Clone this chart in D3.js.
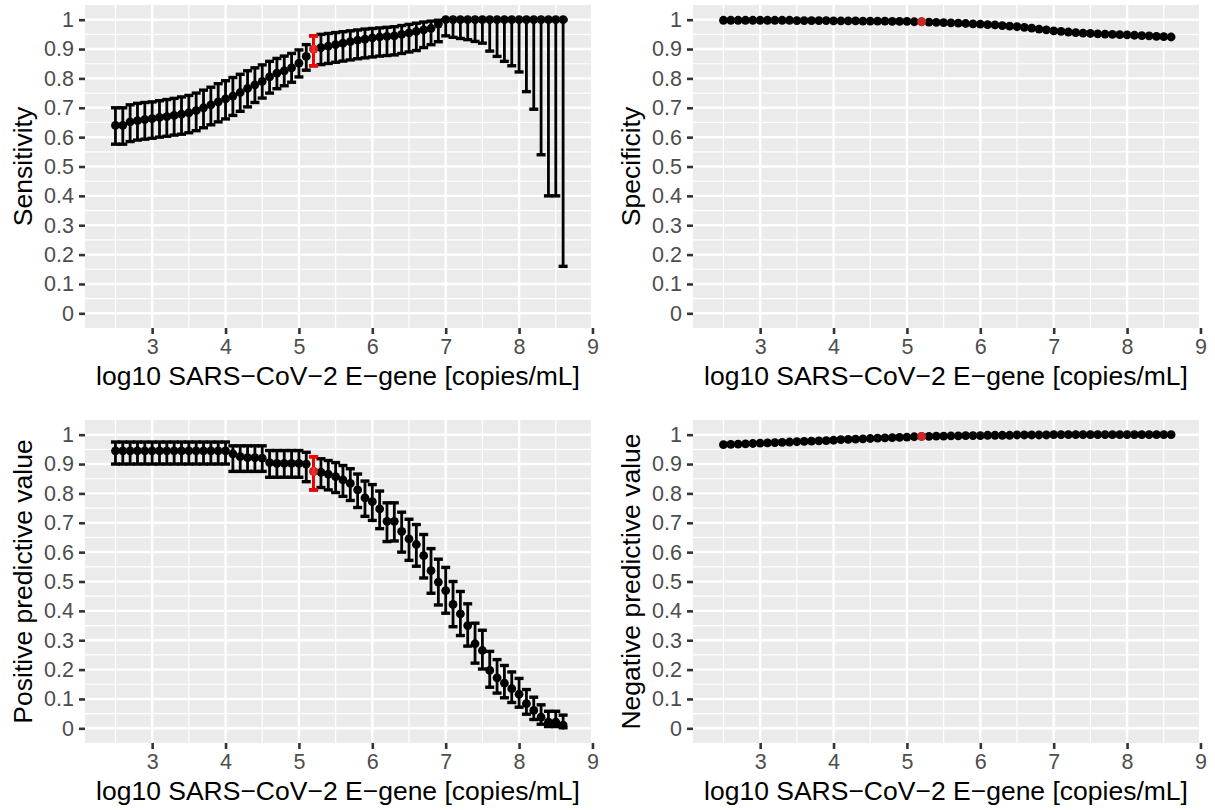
<!DOCTYPE html>
<html>
<head>
<meta charset="utf-8">
<script src="https://cdn.jsdelivr.net/npm/d3@7/dist/d3.min.js"></script>
<style>
  body { margin: 0; background: #fff; }
  text { font-family: "Liberation Sans", Arial, Helvetica, sans-serif; }
</style>
</head>
<body>
<div id="chart"></div>
<script>
// cut-off that is highlighted in red
const cutoff = 5.2;

const xValues = [2.5, 2.6, 2.7, 2.8, 2.9, 3.0, 3.1, 3.2, 3.3, 3.4, 3.5, 3.6, 3.7, 3.8, 3.9,
  4.0, 4.1, 4.2, 4.3, 4.4, 4.5, 4.6, 4.7, 4.8, 4.9, 5.0, 5.1, 5.2, 5.3, 5.4, 5.5, 5.6, 5.7,
  5.8, 5.9, 6.0, 6.1, 6.2, 6.3, 6.4, 6.5, 6.6, 6.7, 6.8, 6.9, 7.0, 7.1, 7.2, 7.3, 7.4, 7.5,
  7.6, 7.7, 7.8, 7.9, 8.0, 8.1, 8.2, 8.3, 8.4, 8.5, 8.6];

const sensitivity = [0.640, 0.640, 0.652, 0.656, 0.660, 0.663, 0.667, 0.670, 0.674, 0.678,
  0.683, 0.690, 0.700, 0.710, 0.720, 0.730, 0.740, 0.752, 0.766, 0.778, 0.790, 0.805, 0.818,
  0.826, 0.836, 0.852, 0.875, 0.900, 0.905, 0.910, 0.915, 0.920, 0.925, 0.930, 0.934, 0.938,
  0.941, 0.943, 0.945, 0.950, 0.955, 0.960, 0.965, 0.970, 0.985, 1, 1, 1, 1, 1, 1, 1, 1, 1,
  1, 1, 1, 1, 1, 1, 1, 1];
const sensLower = [0.576, 0.576, 0.585, 0.590, 0.593, 0.596, 0.600, 0.603, 0.607, 0.610,
  0.615, 0.622, 0.632, 0.642, 0.652, 0.662, 0.674, 0.688, 0.703, 0.718, 0.733, 0.750, 0.765,
  0.775, 0.787, 0.805, 0.828, 0.843, 0.847, 0.851, 0.855, 0.859, 0.863, 0.867, 0.870, 0.873,
  0.876, 0.878, 0.880, 0.885, 0.890, 0.895, 0.905, 0.915, 0.925, 0.945, 0.940, 0.936, 0.932,
  0.926, 0.920, 0.893, 0.875, 0.858, 0.843, 0.822, 0.755, 0.695, 0.540, 0.400, 0.400, 0.160];
const sensUpper = [0.700, 0.700, 0.710, 0.715, 0.718, 0.720, 0.724, 0.728, 0.732, 0.737,
  0.742, 0.750, 0.760, 0.770, 0.782, 0.792, 0.803, 0.814, 0.826, 0.836, 0.846, 0.858, 0.868,
  0.876, 0.885, 0.897, 0.915, 0.945, 0.950, 0.953, 0.956, 0.959, 0.962, 0.965, 0.968, 0.970,
  0.972, 0.974, 0.976, 0.980, 0.984, 0.988, 0.992, 0.995, 0.998, 1, 1, 1, 1, 1, 1, 1, 1, 1,
  1, 1, 1, 1, 1, 1, 1, 1];

const specificity = [0.998, 0.998, 0.998, 0.998, 0.998, 0.998, 0.998, 0.998, 0.998, 0.998,
  0.997, 0.997, 0.997, 0.997, 0.997, 0.996, 0.996, 0.996, 0.996, 0.995, 0.995, 0.995, 0.995,
  0.994, 0.994, 0.994, 0.993, 0.993, 0.992, 0.991, 0.990, 0.989, 0.988, 0.987, 0.986, 0.985,
  0.983, 0.982, 0.980, 0.978, 0.976, 0.974, 0.971, 0.968, 0.965, 0.962, 0.960, 0.958, 0.956,
  0.954, 0.953, 0.952, 0.951, 0.950, 0.949, 0.948, 0.947, 0.946, 0.945, 0.943, 0.942, 0.941];

const ppv = [0.945, 0.945, 0.945, 0.945, 0.945, 0.945, 0.945, 0.945, 0.945, 0.945, 0.945,
  0.945, 0.945, 0.945, 0.945, 0.945, 0.935, 0.925, 0.922, 0.922, 0.920, 0.905, 0.902, 0.902,
  0.902, 0.902, 0.900, 0.875, 0.872, 0.866, 0.857, 0.846, 0.834, 0.812, 0.785, 0.772, 0.747,
  0.705, 0.705, 0.671, 0.645, 0.626, 0.588, 0.537, 0.498, 0.469, 0.422, 0.390, 0.350, 0.288,
  0.265, 0.197, 0.172, 0.154, 0.135, 0.116, 0.084, 0.061, 0.038, 0.021, 0.021, 0.011];
const ppvLower = [0.900, 0.900, 0.900, 0.900, 0.900, 0.900, 0.900, 0.900, 0.900, 0.900,
  0.900, 0.900, 0.900, 0.900, 0.900, 0.900, 0.875, 0.875, 0.875, 0.875, 0.875, 0.855, 0.855,
  0.855, 0.855, 0.855, 0.840, 0.812, 0.820, 0.812, 0.803, 0.790, 0.776, 0.752, 0.722, 0.708,
  0.680, 0.636, 0.638, 0.600, 0.572, 0.552, 0.512, 0.460, 0.420, 0.392, 0.346, 0.316, 0.280,
  0.222, 0.202, 0.140, 0.120, 0.104, 0.088, 0.072, 0.048, 0.030, 0.014, 0.006, 0.006, 0.002];
const ppvUpper = [0.975, 0.975, 0.975, 0.975, 0.975, 0.975, 0.975, 0.975, 0.975, 0.975,
  0.975, 0.975, 0.975, 0.975, 0.975, 0.975, 0.962, 0.962, 0.962, 0.962, 0.962, 0.946, 0.946,
  0.946, 0.946, 0.946, 0.940, 0.925, 0.918, 0.912, 0.905, 0.895, 0.884, 0.866, 0.842, 0.830,
  0.808, 0.768, 0.768, 0.736, 0.712, 0.694, 0.660, 0.612, 0.576, 0.548, 0.500, 0.466, 0.424,
  0.358, 0.334, 0.262, 0.234, 0.214, 0.192, 0.170, 0.132, 0.106, 0.080, 0.058, 0.058, 0.045];

const npv = [0.966, 0.967, 0.968, 0.969, 0.970, 0.971, 0.972, 0.973, 0.974, 0.975, 0.976,
  0.977, 0.978, 0.979, 0.980, 0.981, 0.983, 0.984, 0.985, 0.986, 0.987, 0.988, 0.989, 0.990,
  0.991, 0.992, 0.993, 0.994, 0.994, 0.995, 0.995, 0.996, 0.996, 0.997, 0.997, 0.997, 0.998,
  0.998, 0.998, 0.998, 0.999, 0.999, 0.999, 0.999, 0.999, 1, 1, 1, 1, 1, 1, 1, 1, 1, 1, 1,
  1, 1, 1, 1, 1, 1];

const xTicks = [3, 4, 5, 6, 7, 8, 9];
const yTicks = [0, 0.1, 0.2, 0.3, 0.4, 0.5, 0.6, 0.7, 0.8, 0.9, 1];
const xTitle = 'log10 SARS\u2212CoV\u22122 E\u2212gene [copies/mL]';

const width = 1215, height = 810;

const svg = d3.select('#chart').append('svg')
  .attr('width', width)
  .attr('height', height);

function drawPanel(cfg) {
  const x = d3.scaleLinear().domain([2.085, 8.98]).range([cfg.left, cfg.right]);
  const y = d3.scaleLinear().domain([-0.05, 1.05]).range([cfg.bottom, cfg.top]);
  const g = svg.append('g');

  g.append('rect')
    .attr('x', cfg.left).attr('y', cfg.top)
    .attr('width', cfg.right - cfg.left).attr('height', cfg.bottom - cfg.top)
    .attr('fill', '#EBEBEB');

  // minor grid
  const xMinor = xTicks.map(d => d - 0.5);
  const yMinor = yTicks.slice(1).map(d => d - 0.05);
  g.selectAll('.xminor').data(xMinor).join('line')
    .attr('x1', d => x(d)).attr('x2', d => x(d))
    .attr('y1', cfg.top).attr('y2', cfg.bottom)
    .attr('stroke', '#fff').attr('stroke-width', 1.2);
  g.selectAll('.yminor').data(yMinor).join('line')
    .attr('x1', cfg.left).attr('x2', cfg.right)
    .attr('y1', d => y(d)).attr('y2', d => y(d))
    .attr('stroke', '#fff').attr('stroke-width', 1.2);

  // major grid
  g.selectAll('.xmajor').data(xTicks).join('line')
    .attr('x1', d => x(d)).attr('x2', d => x(d))
    .attr('y1', cfg.top).attr('y2', cfg.bottom)
    .attr('stroke', '#fff').attr('stroke-width', 2.4);
  g.selectAll('.ymajor').data(yTicks).join('line')
    .attr('x1', cfg.left).attr('x2', cfg.right)
    .attr('y1', d => y(d)).attr('y2', d => y(d))
    .attr('stroke', '#fff').attr('stroke-width', 2.4);

  // axes
  const xAxis = g.append('g')
    .attr('transform', `translate(0,${cfg.bottom})`)
    .call(d3.axisBottom(x).tickValues(xTicks).tickFormat(d3.format('d')).tickSize(6).tickPadding(5));
  const yAxis = g.append('g')
    .attr('transform', `translate(${cfg.left},0)`)
    .call(d3.axisLeft(y).tickValues(yTicks).tickFormat(d3.format('~g')).tickSize(6).tickPadding(5));
  [xAxis, yAxis].forEach(a => {
    a.select('.domain').remove();
    a.selectAll('.tick line').attr('stroke', '#333').attr('stroke-width', 2.6);
    a.selectAll('.tick text')
      .attr('fill', '#4D4D4D')
      .style('font-size', '21.5px')
      .style('font-family', '"Liberation Sans", Arial, sans-serif');
  });

  const rows = xValues.map((xv, i) => ({
    x: xv,
    v: cfg.values[i],
    lo: cfg.lower ? cfg.lower[i] : null,
    hi: cfg.upper ? cfg.upper[i] : null,
    cut: Math.abs(xv - cutoff) < 1e-9
  }));

  const drawBars = (data, color) => {
    if (!cfg.lower) return;
    const bars = g.append('g').attr('stroke', color).attr('stroke-width', 2.8);
    bars.selectAll('.v').data(data).join('line')
      .attr('x1', d => x(d.x)).attr('x2', d => x(d.x))
      .attr('y1', d => y(d.lo)).attr('y2', d => y(d.hi));
    bars.selectAll('.lo').data(data).join('line')
      .attr('x1', d => x(d.x) - 4.5).attr('x2', d => x(d.x) + 4.5)
      .attr('y1', d => y(d.lo)).attr('y2', d => y(d.lo))
      .attr('stroke-width', 3.4);
    bars.selectAll('.hi').data(data).join('line')
      .attr('x1', d => x(d.x) - 4.5).attr('x2', d => x(d.x) + 4.5)
      .attr('y1', d => y(d.hi)).attr('y2', d => y(d.hi))
      .attr('stroke-width', 3.4);
  };

  drawBars(rows, '#000');
  g.append('g').selectAll('circle').data(rows).join('circle')
    .attr('cx', d => x(d.x)).attr('cy', d => y(d.v))
    .attr('r', 4.4).attr('fill', '#000');

  const red = rows.filter(d => d.cut);
  drawBars(red, '#FF0000');
  g.append('g').selectAll('circle').data(red).join('circle')
    .attr('cx', d => x(d.x)).attr('cy', d => y(d.v))
    .attr('r', 4.4).attr('fill', '#FF3030').attr('fill-opacity', 0.8);

  // titles
  g.append('text')
    .attr('x', (cfg.left + cfg.right) / 2)
    .attr('y', cfg.bottom + 57)
    .attr('text-anchor', 'middle')
    .attr('fill', '#000')
    .style('font-size', '26.5px')
    .text(xTitle);
  g.append('text')
    .attr('transform', `translate(${cfg.left - 53},${(cfg.top + cfg.bottom) / 2}) rotate(-90)`)
    .attr('text-anchor', 'middle')
    .attr('fill', '#000')
    .style('font-size', '26.5px')
    .text(cfg.title);
}

drawPanel({left: 85, right: 591, top: 5, bottom: 328, values: sensitivity,
  lower: sensLower, upper: sensUpper, title: 'Sensitivity'});
drawPanel({left: 693, right: 1199, top: 5, bottom: 328, values: specificity,
  title: 'Specificity'});
drawPanel({left: 85, right: 591, top: 420, bottom: 743, values: ppv,
  lower: ppvLower, upper: ppvUpper, title: 'Positive predictive value'});
drawPanel({left: 693, right: 1199, top: 420, bottom: 743, values: npv,
  title: 'Negative predictive value'});
</script>
</body>
</html>
